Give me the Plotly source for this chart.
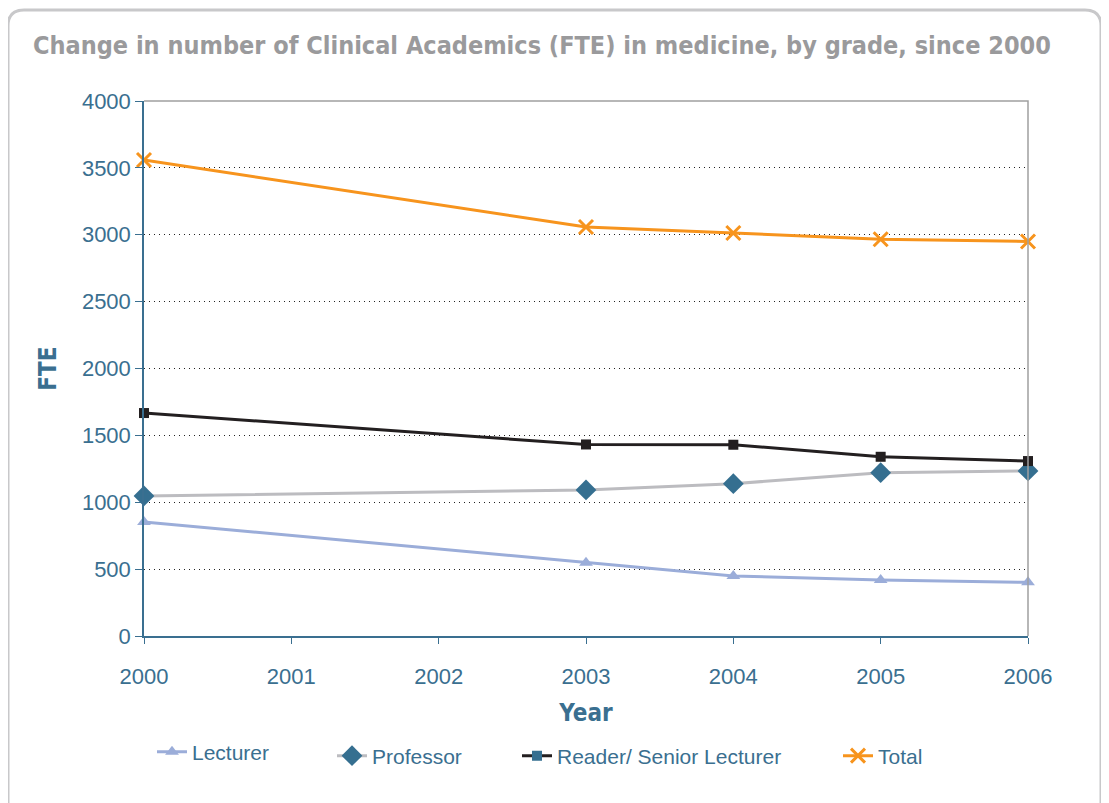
import plotly.graph_objects as go

# data
years = [2000, 2003, 2004, 2005, 2006]
lecturer = [852, 548, 449, 419, 401]
professor = [1047, 1092, 1139, 1221, 1234]
reader = [1667, 1432, 1430, 1340, 1308]
total = [3559, 3058, 3013, 2966, 2950]

x_ticks = [2000, 2001, 2002, 2003, 2004, 2005, 2006]
y_ticks = [0, 500, 1000, 1500, 2000, 2500, 3000, 3500, 4000]

BLUE = "#3a6f90"
TXT_FONT = "Liberation Sans"
BOLD_FONT = "DejaVu Sans Condensed"

# plot area in window pixels (the page body adds an 8px offset)
PL, PR, PT, PB = 144, 1028, 101, 636


def px_x(px):
    return (px - PL) / (PR - PL)


def px_y(py):
    return (PB - py) / (PB - PT)


fig = go.Figure()

fig.add_trace(go.Scatter(
    x=years, y=lecturer, name="Lecturer", mode="lines+markers",
    line=dict(color="#9badd9", width=3),
    marker=dict(symbol="triangle-up", size=12, color="#9badd9"),
    cliponaxis=False, legend="legend",
))
fig.add_trace(go.Scatter(
    x=years, y=professor, name="Professor", mode="lines+markers",
    line=dict(color="#bcbcc0", width=3),
    marker=dict(symbol="diamond", size=16, color="#356f90"),
    cliponaxis=False, legend="legend2",
))
fig.add_trace(go.Scatter(
    x=years, y=reader, name="Reader/ Senior Lecturer", mode="lines+markers",
    line=dict(color="#231f20", width=3),
    marker=dict(symbol="square", size=10, color="#231f20"),
    cliponaxis=False, showlegend=False,
))
# legend entry for the reader series uses a blue square, as in the original key
fig.add_trace(go.Scatter(
    x=[None], y=[None], name="Reader/ Senior Lecturer", mode="lines+markers",
    line=dict(color="#231f20", width=3),
    marker=dict(symbol="square", size=10, color="#356f90"),
    legend="legend3",
))
fig.add_trace(go.Scatter(
    x=years, y=total, name="Total", mode="lines+markers",
    line=dict(color="#f7941d", width=3),
    marker=dict(symbol="x-thin", size=14, color="#f7941d",
                line=dict(color="#f7941d", width=3)),
    cliponaxis=False, legend="legend4",
))

# rounded outer frame (runs off the bottom of the picture)
x0, x1, y0, y1 = px_x(8), px_x(1101), px_y(10), px_y(830)
rx, ry = 16 / (PR - PL), 16 / (PB - PT)
fig.add_shape(
    type="path", xref="paper", yref="paper",
    path=(f"M {x0} {y1} L {x0} {y0 - ry} Q {x0} {y0} {x0 + rx} {y0} "
          f"L {x1 - rx} {y0} Q {x1} {y0} {x1} {y0 - ry} L {x1} {y1}"),
    line=dict(color="#c8c8ca", width=3), layer="below",
)
# grey top and right border of the plot area
fig.add_shape(type="path", xref="x domain", yref="y domain",
              path="M 0 1 L 1 1 L 1 0", line=dict(color="#a0a0a0", width=1.5))

leg_common = dict(orientation="h", xanchor="left", yanchor="middle",
                  font=dict(family=TXT_FONT, size=21, color=BLUE),
                  bgcolor="rgba(0,0,0,0)")

fig.update_layout(
    width=1101, height=795,
    margin=dict(l=PL - 8, r=1109 - PR, t=PT - 8, b=803 - PB),
    paper_bgcolor="white", plot_bgcolor="white",
    font=dict(family=TXT_FONT, color=BLUE, size=22),
    title=dict(
        text="<b>Change in number of Clinical Academics (FTE) in medicine, by grade, since 2000</b>",
        x=25 / 1101, xanchor="left", y=1 - 37 / 795, yanchor="middle",
        font=dict(family=BOLD_FONT, size=25, color="#9a9a9c"),
    ),
    showlegend=True,
    legend=dict(x=px_x(152), y=px_y(752), **leg_common),
    legend2=dict(x=px_x(332), y=px_y(756), **leg_common),
    legend3=dict(x=px_x(517), y=px_y(756), **leg_common),
    legend4=dict(x=px_x(838), y=px_y(756), **leg_common),
    xaxis=dict(
        range=[2000, 2006], tickvals=x_ticks, ticktext=[str(v) for v in x_ticks],
        showgrid=False, zeroline=False,
        showline=True, linecolor=BLUE, linewidth=1.5,
        ticks="outside", ticklen=6, tickcolor=BLUE, ticklabelstandoff=14,
        title=dict(text="<b>Year</b>", font=dict(family=BOLD_FONT, size=24, color=BLUE), standoff=16),
    ),
    yaxis=dict(
        range=[0, 4000], tickvals=y_ticks,
        showgrid=True, gridcolor="#222222", griddash="1px,4px", gridwidth=1.3,
        zeroline=False,
        showline=True, linecolor=BLUE, linewidth=1.5,
        ticks="outside", ticklen=7, tickcolor=BLUE,
        title=dict(text="<b>FTE</b>", font=dict(family=BOLD_FONT, size=24, color=BLUE), standoff=18),
    ),
)

fig.write_html("out.html")
